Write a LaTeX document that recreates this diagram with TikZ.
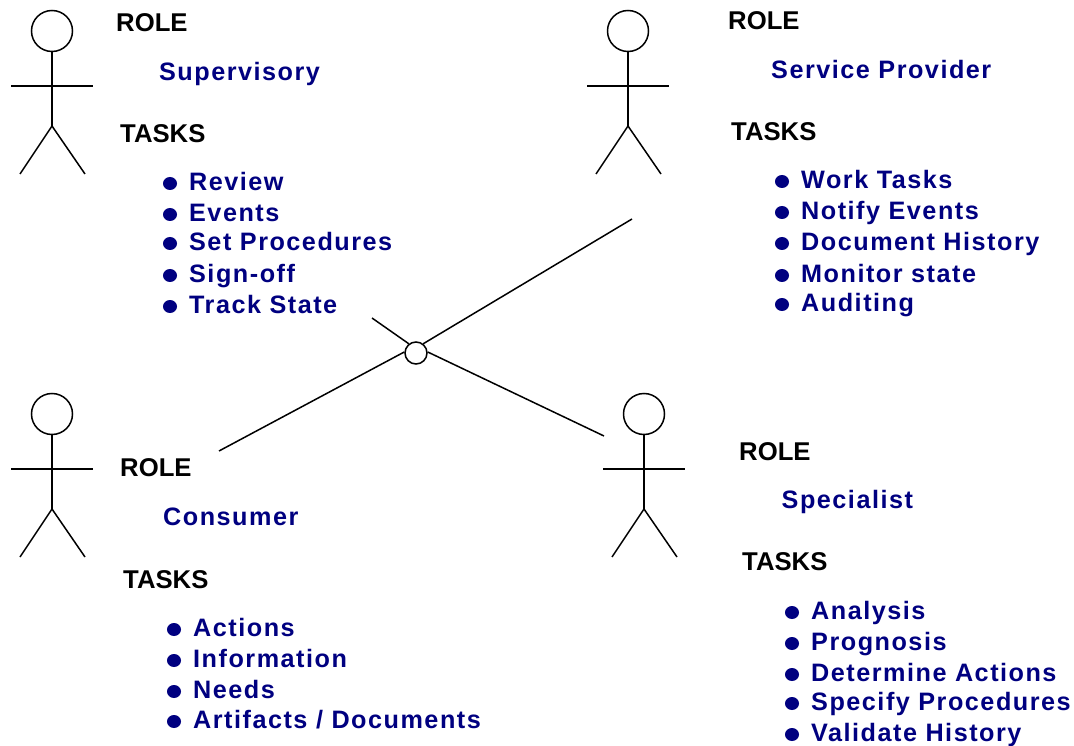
\documentclass[tikz,border=0pt]{standalone}
\usepackage{fontspec}
\usetikzlibrary{shapes.geometric}
\setmainfont{Liberation Sans}
\definecolor{navy}{RGB}{0,0,128}
\tikzset{x=1pt,y=-1pt,
 lbl/.style={anchor=base west,inner sep=0pt,yshift=-0.5pt,font=\fontsize{25.7}{25.7}\selectfont\bfseries,text=black},
 val/.style={anchor=base west,inner sep=0pt,yshift=-0.5pt,font=\addfontfeatures{LetterSpace=6}\fontsize{25.2}{25.2}\selectfont\bfseries,text=navy},
 dot/.style={ellipse,fill=navy,draw=none,inner sep=0pt,minimum width=14pt,minimum height=13pt},
 limb/.style={draw=black,line width=1.5pt},
 head/.style={circle,draw=black,line width=1.5pt,fill=white,inner sep=0pt,minimum size=41pt},
 hub/.style={circle,draw=black,line width=1.5pt,fill=white,inner sep=0pt,minimum size=22pt}}
\newcommand{\actor}[3]{% name, cx, headcy
 \node[head] (#1h) at (#2,#3) {};
 \draw[limb] (#1h.south) -- (#2,#3+95) coordinate (#1c);
 \draw[limb] (#2-41,#3+55) -- (#2+41,#3+55);
 \draw[limb] (#1c) -- ++(-32,48);
 \draw[limb] (#1c) -- ++(33,48);
}
\newcommand{\bul}[4]{% name x y text
 \node[dot] (#1d) at (#2,#3-6.5) {};
 \node[val] (#1) at (#2+19,#3) {#4};
}
\begin{document}
\begin{tikzpicture}
\useasboundingbox (0,0) rectangle (1074,746);
\actor{A}{52}{31}
\actor{B}{628}{31}
\actor{C}{52}{414}
\actor{D}{644}{414}
\node[hub] (hub) at (416,353) {};
\coordinate (p1) at (372,318);
\coordinate (p2) at (632,219);
\coordinate (p3) at (219,451);
\coordinate (p4) at (604,436);
\draw[limb] (p1) -- (hub.128);
\draw[limb] (p2) -- (hub.52);
\draw[limb] (p3) -- (hub.175);
\draw[limb] (p4) -- (hub.5);
\node[lbl] (a1) at (116,31) {ROLE};
\node[val] (a2) at (159,80) {Supervisory};
\node[lbl] (a3) at (120,142) {TASKS};
\bul{a4}{170}{190}{Review}
\bul{a5}{170}{221}{Events}
\bul{a6}{170}{250}{Set Procedures}
\bul{a7}{170}{282}{Sign-off}
\bul{a8}{170}{313}{Track State}
\node[lbl] (b1) at (728,29) {ROLE};
\node[val] (b2) at (771,78) {Service Provider};
\node[lbl] (b3) at (731,140) {TASKS};
\bul{b4}{782}{188}{Work Tasks}
\bul{b5}{782}{219}{Notify Events}
\bul{b6}{782}{250}{Document History}
\bul{b7}{782}{282}{Monitor state}
\bul{b8}{782}{311}{Auditing}
\node[lbl] (c1) at (120,476) {ROLE};
\node[val] (c2) at (163,525) {Consumer};
\node[lbl] (c3) at (123,588) {TASKS};
\bul{c4}{174}{636}{Actions}
\bul{c5}{174}{667}{Information}
\bul{c6}{174}{698}{Needs}
\bul{c7}{174}{728}{Artifacts / Documents}
\node[lbl] (d1) at (739,460) {ROLE};
\node[val] (d2) at (781.5,508) {Specialist};
\node[lbl] (d3) at (742,570) {TASKS};
\bul{d4}{792}{619}{Analysis}
\bul{d5}{792}{650}{Prognosis}
\bul{d6}{792}{681}{Determine Actions}
\bul{d7}{792}{710}{Specify Procedures}
\bul{d8}{792}{741}{Validate History}
\end{tikzpicture}
\end{document}
